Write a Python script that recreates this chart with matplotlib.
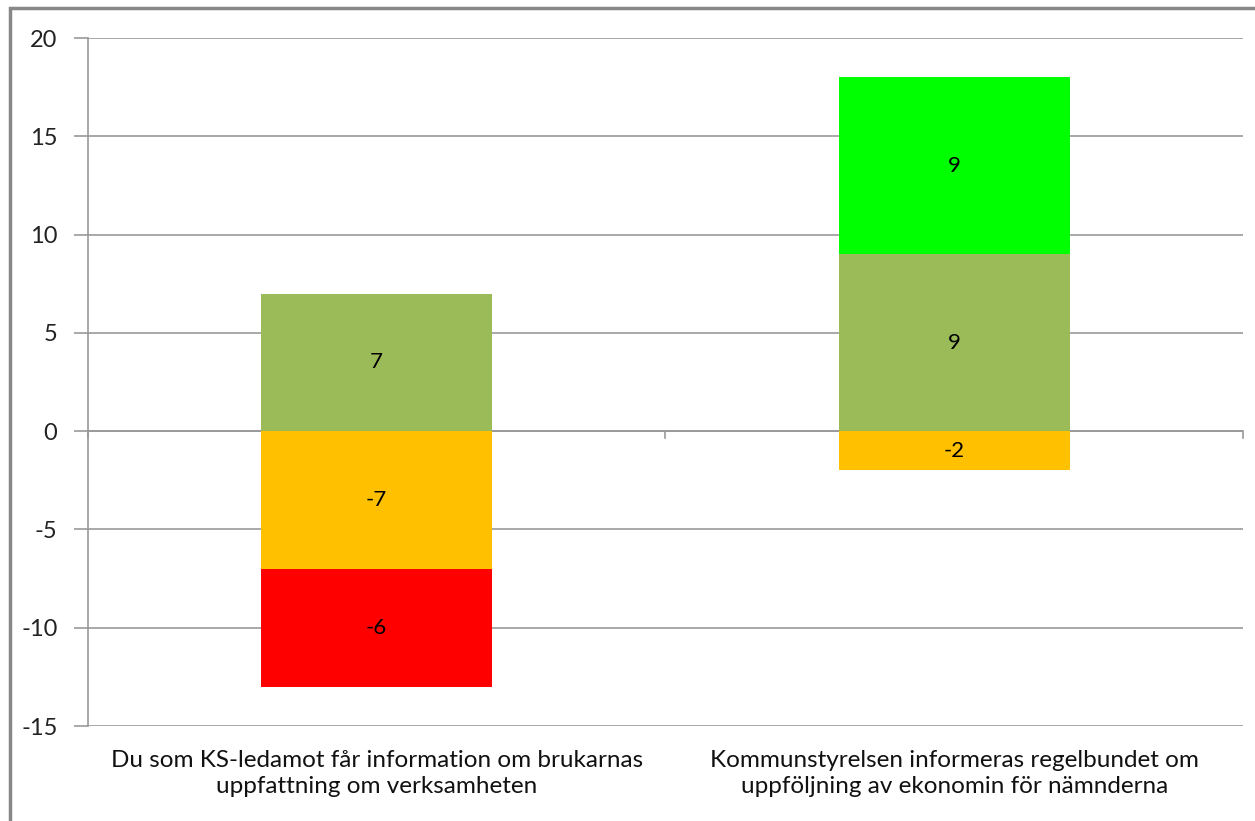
import numpy as np
import matplotlib.pyplot as plt
from matplotlib.patches import Rectangle

plt.rcParams['font.family'] = ['Lato', 'DejaVu Sans']

categories = ["Du som KS-ledamot får information om brukarnas\nuppfattning om verksamheten",
              "Kommunstyrelsen informeras regelbundet om\nuppföljning av ekonomin för nämnderna"]

# stacked series, positive ones stack upward, negative ones downward
pos_series = {
    "Ganska bra": [7, 9],
    "Mycket bra": [0, 9],
}
neg_series = {
    "Ganska dåligt": [-7, -2],
    "Mycket dåligt": [-6, 0],
}
colors = {
    "Mycket bra": "#00ff00",
    "Ganska bra": "#9bbb59",
    "Ganska dåligt": "#ffc000",
    "Mycket dåligt": "#ff0000",
}
yticks = [-15, -10, -5, 0, 5, 10, 15, 20]

fig = plt.figure(figsize=(12.55, 8.21), dpi=100)
ax = fig.add_axes([0.0701, 0.1157, 0.9203, 0.838])

x = np.arange(len(categories))
width = 0.4

bottom = np.zeros(len(categories))
for name, vals in pos_series.items():
    vals = np.array(vals, dtype=float)
    ax.bar(x, vals, width, bottom=bottom, color=colors[name], zorder=3)
    for xi, v, b in zip(x, vals, bottom):
        if v != 0:
            ax.text(xi, b + v / 2, f"{v:g}", ha='center', va='center', fontsize=16, zorder=4)
    bottom = bottom + vals

bottom = np.zeros(len(categories))
for name, vals in neg_series.items():
    vals = np.array(vals, dtype=float)
    ax.bar(x, vals, width, bottom=bottom, color=colors[name], zorder=3)
    for xi, v, b in zip(x, vals, bottom):
        if v != 0:
            ax.text(xi, b + v / 2, f"{v:g}", ha='center', va='center', fontsize=16, zorder=4)
    bottom = bottom + vals

ax.set_xlim(-0.5, len(categories) - 0.5)
ax.set_ylim(-15, 20)
ax.set_yticks(yticks)
ax.set_yticklabels([str(t) for t in yticks], fontsize=17, color='#222222')
ax.tick_params(axis='y', length=10, width=1.2, color='#999999', pad=12)
ax.grid(axis='y', color='#999999', linewidth=1.2, zorder=0)

# x axis line at zero with ticks at category boundaries
ax.axhline(0, color='#999999', linewidth=1.2, zorder=2)
for b in np.arange(len(categories) + 1) - 0.5:
    ax.plot([b, b], [0, -0.35], color='#999999', linewidth=1.2, zorder=2, clip_on=False)
ax.set_xticks([])
for xi, lab in zip(x, categories):
    ax.text(xi, -16.2, lab, ha='center', va='top', fontsize=17.5, color='#111111',
            linespacing=1.3)

for s in ['top', 'right', 'bottom']:
    ax.spines[s].set_visible(False)
ax.spines['left'].set_color('#999999')
ax.spines['left'].set_linewidth(1.2)

# outer chart border
fig.patches.append(Rectangle((10 / 1255, -0.1), 1.2, 1 - 8 / 821 + 0.1,
                             transform=fig.transFigure, fill=False,
                             edgecolor='#888888', linewidth=2.5))

fig.savefig("out.png", dpi=100, facecolor='white')
